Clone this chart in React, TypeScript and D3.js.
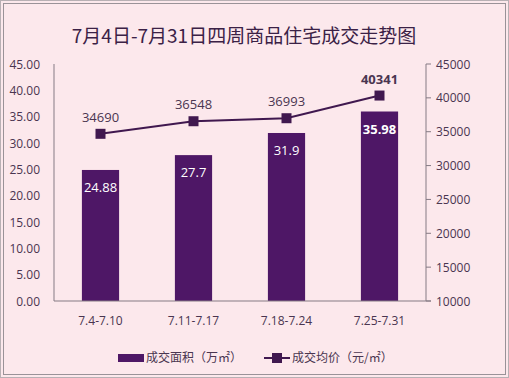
import React from "react";
import * as d3 from "d3";

const categories = ["7.4-7.10", "7.11-7.17", "7.18-7.24", "7.25-7.31"];
const areaValues = [24.88, 27.7, 31.9, 35.98];
const areaLabels = ["24.88", "27.7", "31.9", "35.98"];
const priceValues = [34690, 36548, 36993, 40341];
const leftTicks = [0, 5, 10, 15, 20, 25, 30, 35, 40, 45];
const rightTicks = [10000, 15000, 20000, 25000, 30000, 35000, 40000, 45000];
const title = "7月4日-7月31日四周商品住宅成交走势图";
const legendArea = "成交面积（万㎡）";
const legendPrice = "成交均价（元/㎡）";

const W = 509;
const H = 378;
const left = 54;
const right = 426;
const top = 64;
const bottom = 301;

const BAR = "#4e1766";
const LINE = "#40184f";
const TEXT = "#4a3550";
const AXIS = "#857a84";
const FONT = "'Noto Sans CJK SC', 'Open Sans', sans-serif";
const NUMFONT = "'Open Sans', 'Liberation Sans', sans-serif";

export default function App() {
  const x = d3.scaleBand<string>().domain(categories).range([left, right]).paddingInner(0.6).paddingOuter(0.3);
  const yL = d3.scaleLinear().domain([0, 45]).range([bottom, top]);
  const yR = d3.scaleLinear().domain([10000, 45000]).range([bottom, top]);
  const cx = (c: string) => (x(c) as number) + x.bandwidth() / 2;
  const line = d3
    .line<number>()
    .x((_, i) => cx(categories[i]))
    .y((d) => yR(d));

  return (
    <svg width={W} height={H} style={{ position: "absolute", left: 0, top: 0 }} xmlns="http://www.w3.org/2000/svg">
      <rect x={0} y={0} width={W} height={H} fill="#fce8ec" />
      <rect x={0.5} y={0.5} width={W - 1} height={H - 1} fill="none" stroke="#b8b0b4" strokeWidth={1} />
      <rect x={3.5} y={3.5} width={W - 7} height={H - 7} fill="none" stroke="#9a9298" strokeWidth={1} />
      <text x={244} y={43} textAnchor="middle" fontFamily={FONT} fontSize={19} fill="#3b2146">
        {title}
      </text>

      {/* left ticks */}
      {leftTicks.map((t) => (
        <text key={"l" + t} x={40} y={yL(t) + 4.5} textAnchor="end" fontFamily={NUMFONT} fontSize={12} fill={TEXT}>
          {t.toFixed(2)}
        </text>
      ))}
      {/* right ticks */}
      {rightTicks.map((t) => (
        <g key={"r" + t}>
          <line x1={right} x2={right + 5} y1={yR(t)} y2={yR(t)} stroke={AXIS} />
          <text x={436} y={yR(t) + 4.5} textAnchor="start" fontFamily={NUMFONT} fontSize={12} fill={TEXT}>
            {t}
          </text>
        </g>
      ))}

      {/* bars */}
      {categories.map((c, i) => (
        <g key={c}>
          <rect x={x(c)} y={yL(areaValues[i])} width={x.bandwidth()} height={bottom - yL(areaValues[i])} fill={BAR} />
          <text
            x={cx(c)}
            y={yL(areaValues[i]) + 22}
            textAnchor="middle"
            fontFamily={NUMFONT}
            fontSize={13}
            fontWeight={i === 3 ? 700 : 400}
            fill="#ffffff"
          >
            {areaLabels[i]}
          </text>
          <text x={cx(c)} y={bottom + 24} textAnchor="middle" fontFamily={NUMFONT} fontSize={12} fill={TEXT}>
            {c}
          </text>
        </g>
      ))}

      {/* axes */}
      <line x1={left} x2={left} y1={top} y2={bottom} stroke={AXIS} strokeWidth={1} />
      <line x1={right} x2={right} y1={top} y2={bottom} stroke={AXIS} strokeWidth={1} />
      <line x1={left} x2={right + 5} y1={bottom} y2={bottom} stroke={AXIS} strokeWidth={1} />

      {/* line */}
      <path d={line(priceValues) || ""} fill="none" stroke={LINE} strokeWidth={2} />
      {categories.map((c, i) => (
        <g key={"m" + c}>
          <rect x={cx(c) - 5} y={yR(priceValues[i]) - 5} width={10} height={10} fill={LINE} />
          <text
            x={cx(c)}
            y={yR(priceValues[i]) - 12}
            textAnchor="middle"
            fontFamily={NUMFONT}
            fontSize={13}
            fontWeight={i === 3 ? 700 : 400}
            fill={TEXT}
          >
            {priceValues[i]}
          </text>
        </g>
      ))}

      {/* legend */}
      <rect x={118} y={354} width={26} height={8} fill={BAR} />
      <text x={146} y={362} fontFamily={FONT} fontSize={12} fill={TEXT}>
        {legendArea}
      </text>
      <line x1={264} x2={290} y1={358} y2={358} stroke={LINE} strokeWidth={2} />
      <rect x={272} y={353} width={10} height={10} fill={LINE} />
      <text x={292} y={362} fontFamily={FONT} fontSize={12} fill={TEXT}>
        {legendPrice}
      </text>
    </svg>
  );
}
